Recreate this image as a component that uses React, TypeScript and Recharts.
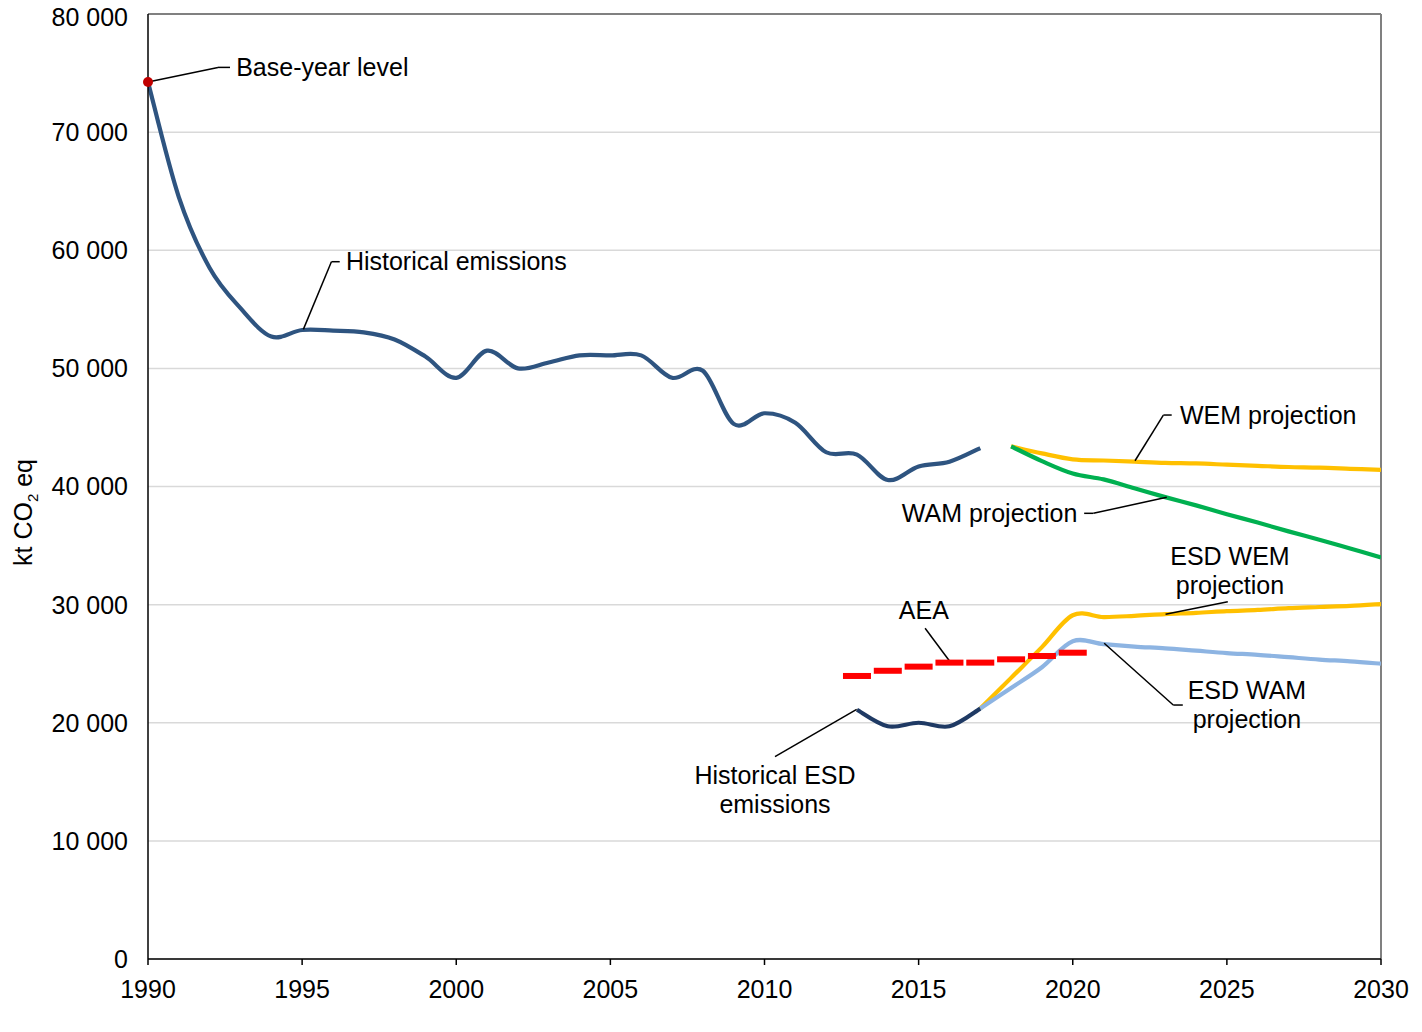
import React from 'react';
import { LineChart, Line, XAxis, YAxis, CartesianGrid, ReferenceLine, ReferenceDot } from 'recharts';

const FONT = '"Liberation Sans", Arial, Helvetica, sans-serif';
const FS = 25;

// Historical total emissions (kt CO2 eq)
const HIST_YEARS = [
  1990, 1991, 1992, 1993, 1994, 1995, 1996, 1997, 1998, 1999,
  2000, 2001, 2002, 2003, 2004, 2005, 2006, 2007, 2008, 2009,
  2010, 2011, 2012, 2013, 2014, 2015, 2016, 2017,
];
const HIST_EMISSIONS = [
  74240, 64500, 58500, 55100, 52700, 53250, 53200, 53050, 52450, 51000,
  49200, 51500, 50000, 50500, 51100, 51100, 51100, 49200, 49800, 45300,
  46200, 45400, 42900, 42700, 40550, 41700, 42100, 43250,
];

// Historical ESD emissions
const ESD_HIST_YEARS = [2013, 2014, 2015, 2016, 2017];
const ESD_HIST = [21100, 19700, 20000, 19700, 21200];

// Annual emission allocations
const AEA_YEARS = [2013, 2014, 2015, 2016, 2017, 2018, 2019, 2020];
const AEA = [23960, 24400, 24750, 25090, 25090, 25370, 25650, 25930];

// Projections
const PROJ_YEARS = [2018, 2019, 2020, 2021, 2022, 2023, 2024, 2025, 2026, 2027, 2028, 2029, 2030];
const WEM = [43400, 42800, 42300, 42200, 42100, 42000, 41950, 41850, 41750, 41650, 41600, 41500, 41400];
const WAM = [43400, 42150, 41100, 40600, 39850, 39100, 38400, 37650, 36950, 36200, 35500, 34750, 34000];

const ESD_PROJ_YEARS = [2017, 2018, 2019, 2020, 2021, 2022, 2023, 2024, 2025, 2026, 2027, 2028, 2029, 2030];
const ESD_WEM = [21200, 23800, 26400, 29100, 28950, 29050, 29200, 29300, 29450, 29550, 29700, 29800, 29900, 30050];
const ESD_WAM = [21200, 22950, 24700, 26900, 26650, 26450, 26300, 26100, 25900, 25750, 25550, 25350, 25200, 25000];

const BASE_YEAR = 1990;
const BASE_YEAR_LEVEL = 74240;

const X_TICKS = [1990, 1995, 2000, 2005, 2010, 2015, 2020, 2025, 2030];
const Y_TICKS = [0, 10000, 20000, 30000, 40000, 50000, 60000, 70000, 80000];

type Anchor = 'start' | 'middle' | 'end';
type Annotation = { lines: string[]; x: number; y: number; anchor: Anchor; leader: [number, number][] };

// text labels with leader lines, placed in data coordinates
const ANNOTATIONS: Annotation[] = [
  { lines: ['Base-year level'], x: 1992.86, y: 75450, anchor: 'start', leader: [[1990, 74240], [1992.27, 75480], [1992.66, 75480]] },
  { lines: ['Historical emissions'], x: 1996.42, y: 59030, anchor: 'start', leader: [[1995.04, 53300], [1995.95, 59030], [1996.22, 59030]] },
  { lines: ['WEM projection'], x: 2023.48, y: 46000, anchor: 'start', leader: [[2022.02, 42180], [2022.94, 46050], [2023.21, 46050]] },
  { lines: ['WAM projection'], x: 2020.15, y: 37700, anchor: 'end', leader: [[2020.37, 37730], [2020.67, 37730], [2023.05, 39090]] },
  { lines: ['ESD WEM', 'projection'], x: 2025.1, y: 32890, anchor: 'middle', leader: [[2023.01, 29180], [2025.03, 30250]] },
  { lines: ['ESD WAM', 'projection'], x: 2025.65, y: 21500, anchor: 'middle', leader: [[2021.02, 26730], [2023.26, 21500], [2023.57, 21500]] },
  { lines: ['AEA'], x: 2015.17, y: 29550, anchor: 'middle', leader: [[2015.21, 28000], [2016.02, 25170]] },
  { lines: ['Historical ESD', 'emissions'], x: 2010.34, y: 14350, anchor: 'middle', leader: [[2010.34, 17130], [2012.99, 21140]] },
];

const zip = (years: number[], values: number[]) => years.map((year, i) => ({ year, value: values[i] }));

const histData = zip(HIST_YEARS, HIST_EMISSIONS);
const esdHistData = zip(ESD_HIST_YEARS, ESD_HIST);
const aeaData = zip(AEA_YEARS, AEA);
const wemData = zip(PROJ_YEARS, WEM);
const wamData = zip(PROJ_YEARS, WAM);
const esdWemData = zip(ESD_PROJ_YEARS, ESD_WEM);
const esdWamData = zip(ESD_PROJ_YEARS, ESD_WAM);

// Excel-like smoothed line (Catmull-Rom through every point)
const excelSmooth = (context: any) => {
  let pts: number[][] = [];
  return {
    areaStart() {},
    areaEnd() {},
    lineStart() {
      pts = [];
    },
    point(x: number, y: number) {
      pts.push([+x, +y]);
    },
    lineEnd() {
      const n = pts.length;
      if (!n) return;
      context.moveTo(pts[0][0], pts[0][1]);
      for (let i = 0; i < n - 1; i++) {
        const p0 = pts[Math.max(i - 1, 0)];
        const p1 = pts[i];
        const p2 = pts[i + 1];
        const p3 = pts[Math.min(i + 2, n - 1)];
        context.bezierCurveTo(
          p1[0] + (p2[0] - p0[0]) / 6,
          p1[1] + (p2[1] - p0[1]) / 6,
          p2[0] - (p3[0] - p1[0]) / 6,
          p2[1] - (p3[1] - p1[1]) / 6,
          p2[0],
          p2[1]
        );
      }
    },
  };
};

const fmt = (v: number) => String(v).replace(/\B(?=(\d{3})+(?!\d))/g, ' ');

const AeaDash = (props: any) => {
  const { cx, cy, index } = props;
  if (cx == null || cy == null) return <g key={`aea-${index}`} />;
  return <rect key={`aea-${index}`} x={cx - 14} y={cy - 3} width={28} height={6} fill="#FF0000" />;
};

const YTick = (props: any) => {
  const { x, y, payload } = props;
  return (
    <text x={x} y={y} dy="0.355em" textAnchor="end" fontSize={FS} fontFamily={FONT} fill="#000">
      {fmt(payload.value)}
    </text>
  );
};

const textShape = (a: Annotation) => (props: any) => {
  const { cx, cy } = props;
  const lh = 29;
  const y0 = cy - ((a.lines.length - 1) * lh) / 2;
  return (
    <text textAnchor={a.anchor} fontSize={FS} fontFamily={FONT} fill="#000">
      {a.lines.map((l, i) => (
        <tspan key={i} x={cx} y={y0 + i * lh} dy="0.35em">
          {l}
        </tspan>
      ))}
    </text>
  );
};

const YLabel = (props: any) => {
  const vb = props.viewBox || { x: 0, y: 6, width: 140, height: 945 };
  const x = vb.x + 24;
  const y = vb.y + vb.height / 2 + 26;
  return (
    <text x={x} y={y} transform={`rotate(-90, ${x}, ${y})`} textAnchor="middle" fontSize={FS} fontFamily={FONT} fill="#000">
      kt CO
      <tspan dy={6} fontSize={15}>2</tspan>
      <tspan dy={-6}> eq</tspan>
    </text>
  );
};

const App: React.FC = () => {
  const lineProps = { type: excelSmooth as any, dataKey: 'value', dot: false, activeDot: false, isAnimationActive: false, strokeWidth: 4.2 };
  return (
    <div style={{ width: 1414, height: 1016, fontFamily: FONT }}>
      <style>{'svg.recharts-surface { overflow: visible; }'}</style>
      <LineChart width={1414} height={1016} margin={{ top: 6, right: 41, bottom: 15, left: 0 }}>
        <CartesianGrid vertical={false} stroke="#D9D9D9" strokeWidth={1.5} />
        <XAxis
          type="number"
          dataKey="year"
          domain={[1990, 2030]}
          ticks={X_TICKS}
          allowDataOverflow
          height={50}
          tickSize={6}
          tickMargin={15}
          axisLine={{ stroke: '#000', strokeWidth: 1.5 }}
          tickLine={{ stroke: '#000', strokeWidth: 1.5 }}
          tick={{ fill: '#000', fontSize: FS, fontFamily: FONT }}
        />
        <YAxis
          type="number"
          domain={[0, 80000]}
          ticks={Y_TICKS}
          allowDataOverflow
          width={140}
          tickSize={0}
          tickMargin={20}
          tickLine={false}
          axisLine={{ stroke: '#000', strokeWidth: 1.5 }}
          tick={(p: any) => <YTick {...p} />}
          label={{ content: (p: any) => <YLabel {...p} /> }}
        />
        <ReferenceLine y={80000} stroke="#808080" strokeWidth={2} />
        <ReferenceLine x={2030} stroke="#808080" strokeWidth={2} />

        <Line {...lineProps} data={histData} stroke="#2E5480" name="Historical emissions" />
        <Line {...lineProps} data={esdWemData} stroke="#FFC000" name="ESD WEM projection" />
        <Line {...lineProps} data={esdWamData} stroke="#8DB4E2" name="ESD WAM projection" />
        <Line {...lineProps} data={esdHistData} stroke="#1F3A64" name="Historical ESD emissions" />
        <Line {...lineProps} data={wemData} stroke="#FFC000" name="WEM projection" />
        <Line {...lineProps} data={wamData} stroke="#00B050" name="WAM projection" />
        <Line
          data={aeaData}
          dataKey="value"
          name="AEA"
          stroke="none"
          dot={(p: any) => <AeaDash {...p} />}
          activeDot={false}
          isAnimationActive={false}
        />
        <ReferenceDot x={BASE_YEAR} y={BASE_YEAR_LEVEL} r={5} fill="#C00000" stroke="none" />

        {ANNOTATIONS.map((a, i) =>
          a.leader.slice(1).map((pt, j) => (
            <ReferenceLine
              key={`leader-${i}-${j}`}
              segment={[
                { x: a.leader[j][0], y: a.leader[j][1] },
                { x: pt[0], y: pt[1] },
              ]}
              stroke="#000"
              strokeWidth={1.5}
            />
          ))
        )}
        {ANNOTATIONS.map((a, i) => (
          <ReferenceDot key={`text-${i}`} x={a.x} y={a.y} r={0} shape={textShape(a)} />
        ))}
      </LineChart>
    </div>
  );
};

export default App;
